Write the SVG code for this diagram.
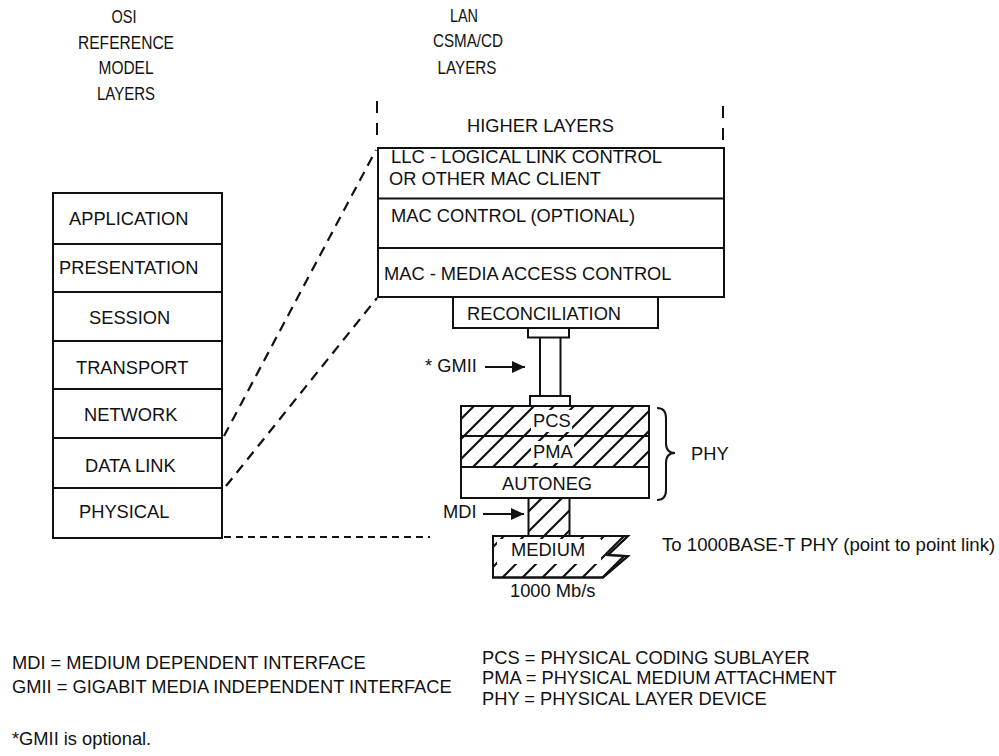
<svg xmlns="http://www.w3.org/2000/svg" width="999" height="756" viewBox="0 0 999 756">
<style>
text{font-family:"Liberation Sans",Arial,sans-serif;font-size:18.3px;fill:#111}
.box{fill:none;stroke:#111;stroke-width:2}
.ln{stroke:#111;stroke-width:2;fill:none}
.dash{stroke:#111;stroke-width:2.2;fill:none;stroke-dasharray:10 7}
.dot{stroke:#111;stroke-width:2.2;fill:none;stroke-dasharray:7 5}
.hatch{fill:url(#hatch);stroke:#111;stroke-width:2}
.bg{fill:#fff}
.tight{font-size:17.6px}
</style>
<defs>
<pattern id="hatch" patternUnits="userSpaceOnUse" width="20" height="20">
<path d="M0,20 L20,0 M-5,5 L5,-5 M15,25 L25,15" stroke="#111" stroke-width="2.2"/>
</pattern>
<marker id="arr" markerUnits="userSpaceOnUse" viewBox="0 0 13 12" markerWidth="13" markerHeight="12" refX="13" refY="6" orient="auto">
<path d="M0,0 L13,6 L0,12 z" fill="#111"/>
</marker>
</defs>
<rect width="999" height="756" fill="#fff"/>

<g id="titles">
<text x="124" y="23" text-anchor="middle" textLength="25" lengthAdjust="spacingAndGlyphs">OSI</text>
<text x="126" y="49" text-anchor="middle" textLength="96" lengthAdjust="spacingAndGlyphs">REFERENCE</text>
<text x="126" y="74" text-anchor="middle" textLength="55" lengthAdjust="spacingAndGlyphs">MODEL</text>
<text x="126" y="100" text-anchor="middle" textLength="58" lengthAdjust="spacingAndGlyphs">LAYERS</text>
<text x="464" y="22" text-anchor="middle" textLength="28" lengthAdjust="spacingAndGlyphs">LAN</text>
<text x="468" y="47" text-anchor="middle" textLength="70" lengthAdjust="spacingAndGlyphs">CSMA/CD</text>
<text x="467" y="74" text-anchor="middle" textLength="59" lengthAdjust="spacingAndGlyphs">LAYERS</text>
</g>

<g id="osi">
<rect class="box" x="53" y="193" width="169" height="345"/>
<path class="ln" d="M53,244H222M53,292H222M53,341H222M53,389H222M53,438H222M53,488H222"/>
<text x="69" y="225">APPLICATION</text>
<text x="59" y="274">PRESENTATION</text>
<text x="89" y="324">SESSION</text>
<text x="76" y="374">TRANSPORT</text>
<text x="84" y="421">NETWORK</text>
<text x="85" y="472">DATA LINK</text>
<text x="79" y="518">PHYSICAL</text>
</g>

<g id="higher-layers">
<path class="ln" d="M377,101V137M723,106V141" stroke-dasharray="12 10"/>
<text x="467" y="132">HIGHER LAYERS</text>
</g>

<g id="lan">
<rect class="box" x="378" y="148" width="346" height="149"/>
<path class="ln" d="M378,198.5H724M378,248H724"/>
<text class="tight" x="391" y="163" textLength="271" lengthAdjust="spacingAndGlyphs">LLC - LOGICAL LINK CONTROL</text>
<text class="tight" x="389" y="184.5" textLength="212" lengthAdjust="spacingAndGlyphs">OR OTHER MAC CLIENT</text>
<text x="391" y="222">MAC CONTROL (OPTIONAL)</text>
<text x="384" y="280">MAC - MEDIA ACCESS CONTROL</text>
</g>

<g id="reconciliation">
<rect class="box" x="453" y="297" width="205" height="31"/>
<text x="467" y="320">RECONCILIATION</text>
</g>

<g id="gmii">
<rect class="box" x="528" y="328" width="41" height="9.5"/>
<path class="ln" d="M540,337.5V396M560.5,337.5V396"/>
<rect class="box" x="530" y="396" width="40" height="10"/>
<text x="425" y="372">* GMII</text>
</g>

<g id="phy">
<rect class="hatch" x="461" y="406" width="188" height="61"/>
<rect class="bg" x="531" y="410" width="41" height="22"/>
<rect class="bg" x="531" y="441" width="43" height="22"/>
<path class="ln" d="M461,436H649"/>
<rect class="box" x="461" y="406" width="188" height="61"/>
<rect class="box" x="461" y="467" width="188" height="31"/>
<text x="533" y="427">PCS</text>
<text x="533" y="458">PMA</text>
<text x="502" y="490">AUTONEG</text>
<path class="ln" d="M657,408Q666,408 666,418L666,443Q666,453 675,453Q666,453 666,463L666,490Q666,500 657,500"/>
<text x="691" y="460">PHY</text>
</g>

<g id="mdi">
<rect class="hatch" x="528.5" y="498" width="41" height="38"/>
<text x="443" y="518">MDI</text>
</g>

<g id="medium">
<path class="hatch" d="M493,536L628,536L608,555L628,556L603,577.5L493,577.5Z"/>
<rect class="bg" x="497" y="539" width="104" height="25"/>
<path class="ln" d="M493,536L628,536L608,555L628,556L603,577.5L493,577.5Z"/>
<text x="511" y="556">MEDIUM</text>
<text x="510" y="597">1000 Mb/s</text>
<text x="662" y="551" style="font-size:18.6px">To 1000BASE-T PHY (point to point link)</text>
</g>

<g id="connectors">
<path class="dash" d="M224,436L376,150"/>
<path class="dash" d="M226,486L377,298"/>
<path class="dot" d="M224,537H430"/>
<path class="ln" d="M485,367H525" marker-end="url(#arr)"/>
<path class="ln" d="M483,514H524" marker-end="url(#arr)"/>
</g>

<g id="legend">
<text x="12" y="669">MDI = MEDIUM DEPENDENT INTERFACE</text>
<text x="12" y="693">GMII = GIGABIT MEDIA INDEPENDENT INTERFACE</text>
<text x="12" y="745">*GMII is optional.</text>
<text x="482" y="664">PCS = PHYSICAL CODING SUBLAYER</text>
<text x="482" y="684">PMA = PHYSICAL MEDIUM ATTACHMENT</text>
<text x="482" y="705">PHY = PHYSICAL LAYER DEVICE</text>
</g>
</svg>
